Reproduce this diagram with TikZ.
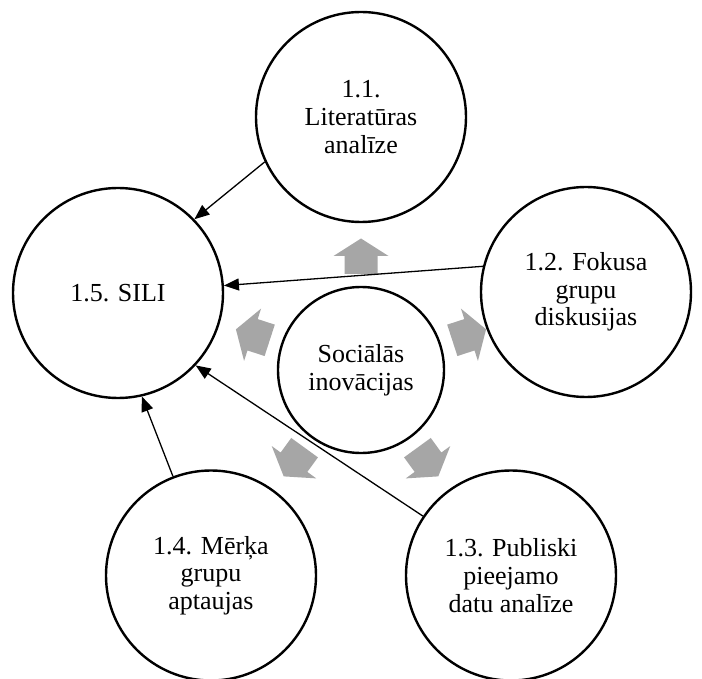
\documentclass[tikz,border=0pt]{standalone}
\usepackage{fontspec}
\setmainfont{Liberation Serif}
\usetikzlibrary{arrows.meta}
\begin{document}
\begin{tikzpicture}[x=1pt,y=-1pt,
  bubble/.style={circle,draw=black,line width=2.4pt,minimum size=210pt,inner sep=0pt,
    align=center,font=\fontsize{26}{27.7}\selectfont},
  hub/.style={bubble,minimum size=166pt},
  link/.style={line width=1.3pt,-{Triangle[length=15pt,width=12pt]}},
  blockarrow/.style={fill=black!35,draw=none}]
\useasboundingbox (0,0) rectangle (702,679);
\fill[white] (0,0) rectangle (702,679);

% centre and the five surrounding topics
\node[hub]    (cc)  at (361,370)   {Sociālās\\inovācijas};
\node[bubble] (c11) at (361,117)   {1.1.\\Literatūras\\analīze};
\node[bubble] (c12) at (586,292)   {1.2. Fokusa\\grupu\\diskusijas};
\node[bubble] (c13) at (511,575.5) {1.3. Publiski\\pieejamo\\datu analīze};
\node[bubble] (c14) at (211,575.5) {1.4. Mērķa\\grupu\\aptaujas};
\node[bubble] (c15) at (118,293)   {1.5. SILI};

% grey block arrows pointing outwards from the centre
\foreach \a in {0,72,144,216,288}{
  \fill[blockarrow,rotate around={-\a:(cc)}]
    (344.5,274) -- (344.5,256) -- (333.5,256) -- (361,238.5)
    -- (388.5,256) -- (377.5,256) -- (377.5,274) -- cycle;
}

% results flowing into SILI
\draw[link] (c11.205) -- (c15.44);
\draw[link] (c12.166) -- (c15.4);
\draw[link] (c13.146) -- (c15.-43);
\draw[link] (c14.111) -- (c15.-77);
\end{tikzpicture}
\end{document}
